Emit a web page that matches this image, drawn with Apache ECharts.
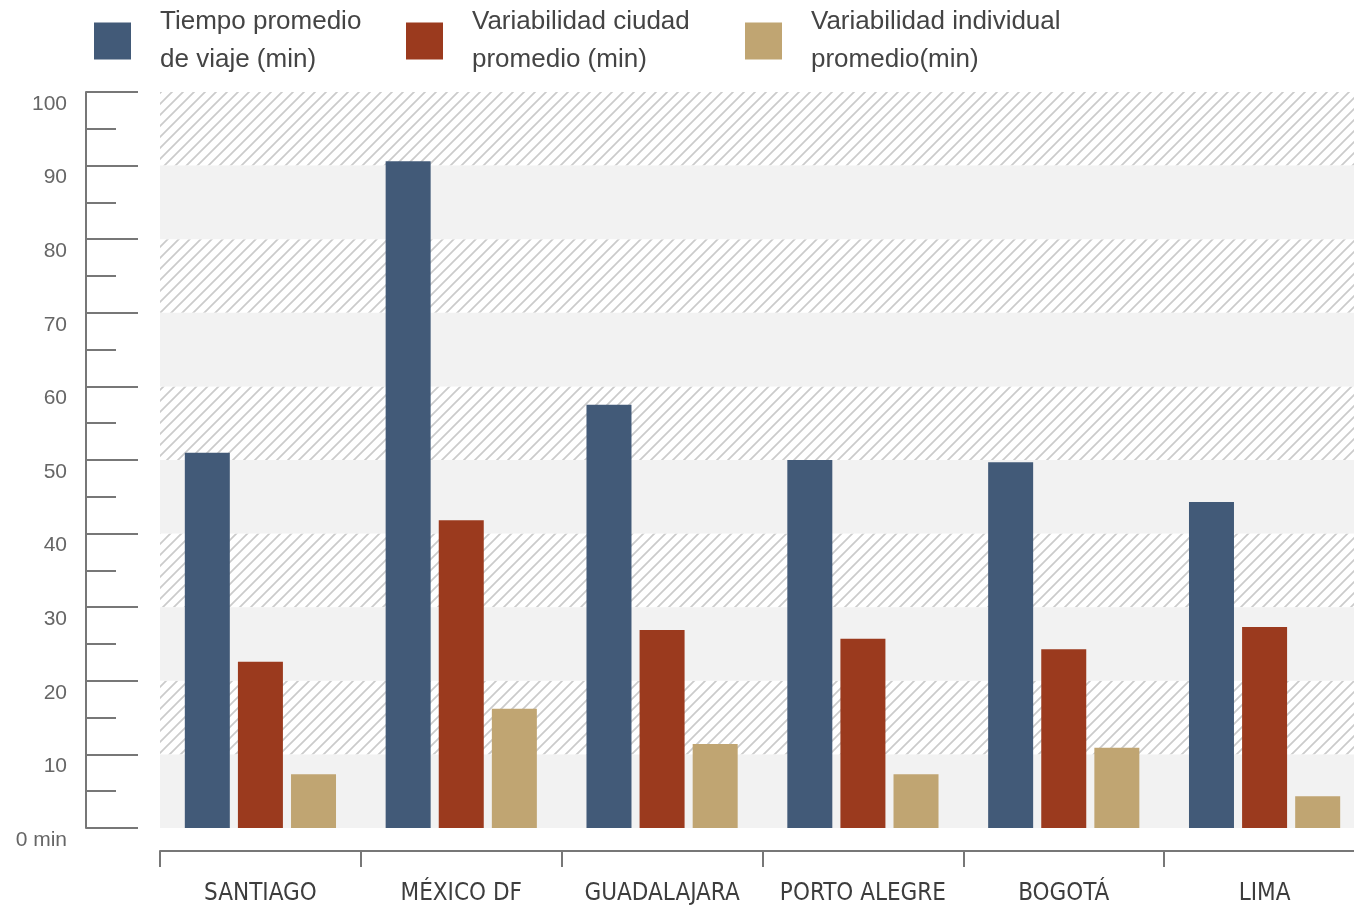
<!DOCTYPE html>
<html>
<head>
<meta charset="utf-8">
<script src="https://cdn.jsdelivr.net/npm/echarts@6/dist/echarts.min.js"></script>
<style>
  html, body { margin: 0; padding: 0; background: #ffffff; overflow: hidden; }
  /* the plot runs a little past the right edge of the window */
  #chart { width: 1365px; height: 907px; }
</style>
</head>
<body>
<div id="chart"></div>
<script>
// Categories (cities) and the three measured series, in minutes
const cities = ['SANTIAGO', 'MÉXICO DF', 'GUADALAJARA', 'PORTO ALEGRE', 'BOGOTÁ', 'LIMA'];
const seriesNames = ['Tiempo promedio\nde viaje (min)', 'Variabilidad ciudad\npromedio (min)', 'Variabilidad individual\npromedio(min)'];
const tiempoPromedio = [51.0, 90.6, 57.5, 50.0, 49.7, 44.3];
const variabilidadCiudad = [22.6, 41.8, 26.9, 25.7, 24.3, 27.3];
const variabilidadIndividual = [7.3, 16.2, 11.4, 7.3, 10.9, 4.3];

// Background bands along the value axis
const hatchedBands = [[10, 20], [30, 40], [50, 60], [70, 80], [90, 100]];
const shadedBands = [[0, 10], [20, 30], [40, 50], [60, 70], [80, 90]];

const colors = ['#425a78', '#9b3a1e', '#c0a572'];
const axisGray = '#777777';
const textFont = "'Liberation Sans', Arial, sans-serif";
const narrowFont = "'Liberation Sans Narrow', 'DejaVu Sans Condensed', sans-serif";

// Diagonal hatch tile used as a repeating fill
function makeHatch() {
  const s = 11;
  const c = document.createElement('canvas');
  c.width = s; c.height = s;
  const ctx = c.getContext('2d');
  ctx.fillStyle = '#ffffff';
  ctx.fillRect(0, 0, s, s);
  ctx.strokeStyle = '#cbcbcb';
  ctx.lineWidth = 1.7;
  ctx.beginPath();
  ctx.moveTo(0, s); ctx.lineTo(s, 0);
  ctx.moveTo(-2, 2); ctx.lineTo(2, -2);
  ctx.moveTo(s - 2, s + 2); ctx.lineTo(s + 2, s - 2);
  ctx.stroke();
  return c;
}
const hatchFill = { image: makeHatch(), repeat: 'repeat' };

const bandAreas = hatchedBands.map(b => [
  { yAxis: b[0], itemStyle: { color: hatchFill } }, { yAxis: b[1] }
]).concat(shadedBands.map(b => [
  { yAxis: b[0], itemStyle: { color: '#f2f2f2' } }, { yAxis: b[1] }
]));

const chart = echarts.init(document.getElementById('chart'), null, { renderer: 'canvas' });

const legendBase = {
  orient: 'horizontal',
  top: 3,
  padding: 0,
  itemWidth: 37,
  itemHeight: 37,
  icon: 'rect',
  textStyle: {
    fontFamily: textFont,
    fontSize: 26,
    color: '#444444',
    lineHeight: 38,
    padding: [0, 0, 0, 24]
  }
};

const option = {
  animation: false,
  backgroundColor: '#ffffff',
  legend: [
    Object.assign({}, legendBase, { left: 94, data: [seriesNames[0]] }),
    Object.assign({}, legendBase, { left: 406, data: [seriesNames[1]] }),
    Object.assign({}, legendBase, { left: 745, data: [seriesNames[2]] })
  ],
  grid: { left: 160, top: 92, width: 1205, height: 736, containLabel: false },
  xAxis: [
    {
      type: 'category',
      data: cities,
      axisLine: { show: false },
      axisTick: { show: false },
      axisLabel: { show: false }
    },
    {
      type: 'category',
      data: cities,
      position: 'bottom',
      offset: 23,
      axisLine: { show: true, lineStyle: { color: axisGray, width: 2 } },
      axisTick: { show: true, length: 16, interval: 0, lineStyle: { color: axisGray, width: 2 } },
      axisLabel: {
        show: true,
        interval: 0,
        margin: 31,
        fontFamily: narrowFont,
        fontSize: 24,
        color: '#3d3d3d'
      }
    }
  ],
  yAxis: {
    type: 'value',
    min: 0,
    max: 100,
    interval: 10,
    offset: 74,
    axisLine: { show: true, lineStyle: { color: axisGray, width: 2 } },
    axisTick: { show: true, inside: true, length: 52, lineStyle: { color: axisGray, width: 2 } },
    minorTick: { show: true, splitNumber: 2, length: 30, lineStyle: { color: axisGray, width: 2 } },
    splitLine: { show: false },
    axisLabel: {
      margin: 19,
      formatter: v => '{t|' + (v === 0 ? '0 min' : String(v)) + '}',
      rich: {
        t: { fontFamily: textFont, fontSize: 21, color: '#666666', padding: [24, 0, 0, 0] }
      }
    }
  },
  series: [
    {
      name: seriesNames[0],
      type: 'bar',
      data: tiempoPromedio,
      barWidth: 45,
      barGap: '18%',
      itemStyle: { color: colors[0] },
      markArea: { silent: true, z: 1, data: bandAreas }
    },
    {
      name: seriesNames[1],
      type: 'bar',
      data: variabilidadCiudad,
      barWidth: 45,
      barGap: '18%',
      itemStyle: { color: colors[1] }
    },
    {
      name: seriesNames[2],
      type: 'bar',
      data: variabilidadIndividual,
      barWidth: 45,
      barGap: '18%',
      itemStyle: { color: colors[2] }
    }
  ]
};

chart.setOption(option);
</script>
</body>
</html>
